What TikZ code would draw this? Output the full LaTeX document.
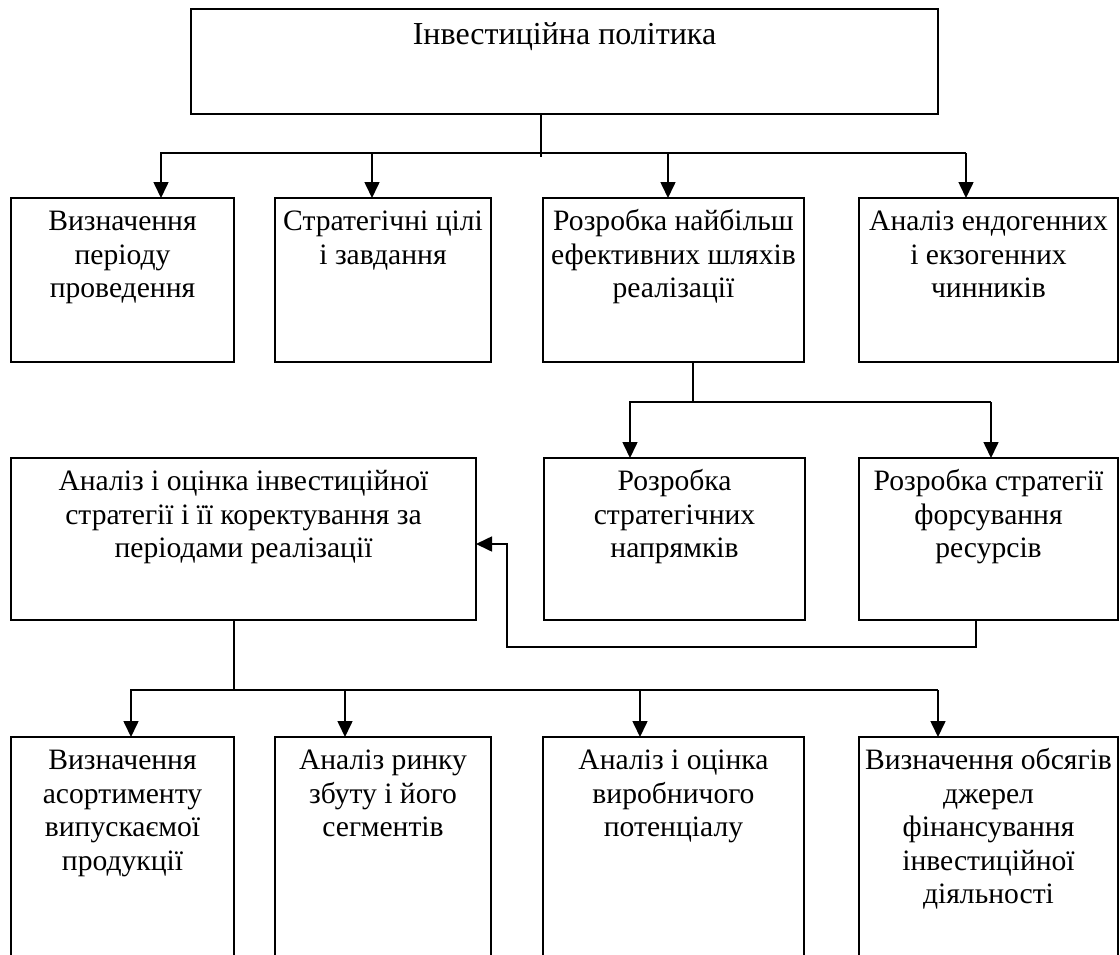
\documentclass[tikz,border=0pt]{standalone}
\usepackage{fontspec}
\setmainfont{Liberation Serif}
\usetikzlibrary{arrows.meta}

% one centred line that never wraps
\newcommand\ml[1]{\makebox[0pt]{#1}}
% box body: width, height, lines set from the top edge
\newcommand\boxtext[3]{\parbox[c][#2][t]{#1}{\centering\fontsize{29.6}{33.5}\selectfont\rule{0pt}{32.5pt}#3\par}}
\newcommand\headtext[3]{\parbox[c][#2][t]{#1}{\centering\fontsize{32}{36}\selectfont\rule{0pt}{35pt}#3\par}}

\tikzset{
  box/.style={draw, line width=2.6pt, inner sep=0pt, outer sep=0pt, anchor=north west},
  link/.style={line width=1.6pt},
  arr/.style={link, -{Triangle[width=15pt,length=16pt]}}
}

\begin{document}
\begin{tikzpicture}[x=1pt,y=-1pt]
\clip (0,0) rectangle (1120,954);

% top level
\node[box] (top) at (191,9) {\headtext{747pt}{105pt}{\ml{Інвестиційна політика}}};

% first row
\node[box] (r1a) at (11,198)  {\boxtext{223pt}{164pt}{\ml{Визначення}\\\ml{періоду}\\\ml{проведення}}};
\node[box] (r1b) at (275,198) {\boxtext{216pt}{164pt}{\ml{Стратегічні цілі}\\\ml{і завдання}}};
\node[box] (r1c) at (543,198) {\boxtext{261pt}{164pt}{\ml{Розробка найбільш}\\\ml{ефективних шляхів}\\\ml{реалізації}}};
\node[box] (r1d) at (859,198) {\boxtext{259pt}{164pt}{\ml{Аналіз ендогенних}\\\ml{і екзогенних}\\\ml{чинників}}};

% second row
\node[box] (r2a) at (11,458)  {\boxtext{465pt}{162pt}{\ml{Аналіз і оцінка інвестиційної}\\\ml{стратегії і її коректування за}\\\ml{періодами реалізації}}};
\node[box] (r2b) at (544,458) {\boxtext{261pt}{162pt}{\ml{Розробка}\\\ml{стратегічних}\\\ml{напрямків}}};
\node[box] (r2c) at (859,458) {\boxtext{259pt}{162pt}{\ml{Розробка стратегії}\\\ml{форсування}\\\ml{ресурсів}}};

% third row
\node[box] (r3a) at (11,737)  {\boxtext{223pt}{250pt}{\ml{Визначення}\\\ml{асортименту}\\\ml{випускаємої}\\\ml{продукції}}};
\node[box] (r3b) at (275,737) {\boxtext{216pt}{250pt}{\ml{Аналіз ринку}\\\ml{збуту і його}\\\ml{сегментів}}};
\node[box] (r3c) at (543,737) {\boxtext{261pt}{250pt}{\ml{Аналіз і оцінка}\\\ml{виробничого}\\\ml{потенціалу}}};
\node[box] (r3d) at (859,737) {\boxtext{259pt}{250pt}{\ml{Визначення обсягів}\\\ml{джерел}\\\ml{фінансування}\\\ml{інвестиційної}\\\ml{діяльності}}};

% junction points
\coordinate (h1) at (541,157);
\coordinate (b1L) at (161,153);
\coordinate (b1b) at (372,153);
\coordinate (b1c) at (668,153);
\coordinate (b1R) at (966,153);

\coordinate (h2) at (693,402);
\coordinate (b2L) at (630,402);
\coordinate (b2R) at (991,402);

\coordinate (fb1) at (976,647);
\coordinate (fb2) at (507,647);
\coordinate (fb3) at (507,544);

\coordinate (h3) at (234,690);
\coordinate (b3L) at (131,690);
\coordinate (b3b) at (345,690);
\coordinate (b3c) at (640,690);
\coordinate (b3R) at (938,690);

% top level to first row
\draw[link] (top.south -| h1) -- (h1);
\draw[arr] (b1R) -- (b1L) -- (r1a.north -| b1L);
\draw[arr] (b1b) -- (r1b.north -| b1b);
\draw[arr] (b1c) -- (r1c.north -| b1c);
\draw[arr] (b1R) -- (r1d.north -| b1R);

% ways of realisation to second row
\draw[link] (r1c.south -| h2) -- (h2);
\draw[arr] (b2R) -- (b2L) -- (r2b.north -| b2L);
\draw[arr] (b2R) -- (r2c.north -| b2R);

% feedback from resources to assessment
\draw[arr] (r2c.south -| fb1) -- (fb1) -- (fb2) -- (fb3) -- (r2a.east |- fb3);

% assessment to third row
\draw[link] (r2a.south -| h3) -- (h3);
\draw[arr] (b3R) -- (b3L) -- (r3a.north -| b3L);
\draw[arr] (b3b) -- (r3b.north -| b3b);
\draw[arr] (b3c) -- (r3c.north -| b3c);
\draw[arr] (b3R) -- (r3d.north -| b3R);
\end{tikzpicture}
\end{document}
